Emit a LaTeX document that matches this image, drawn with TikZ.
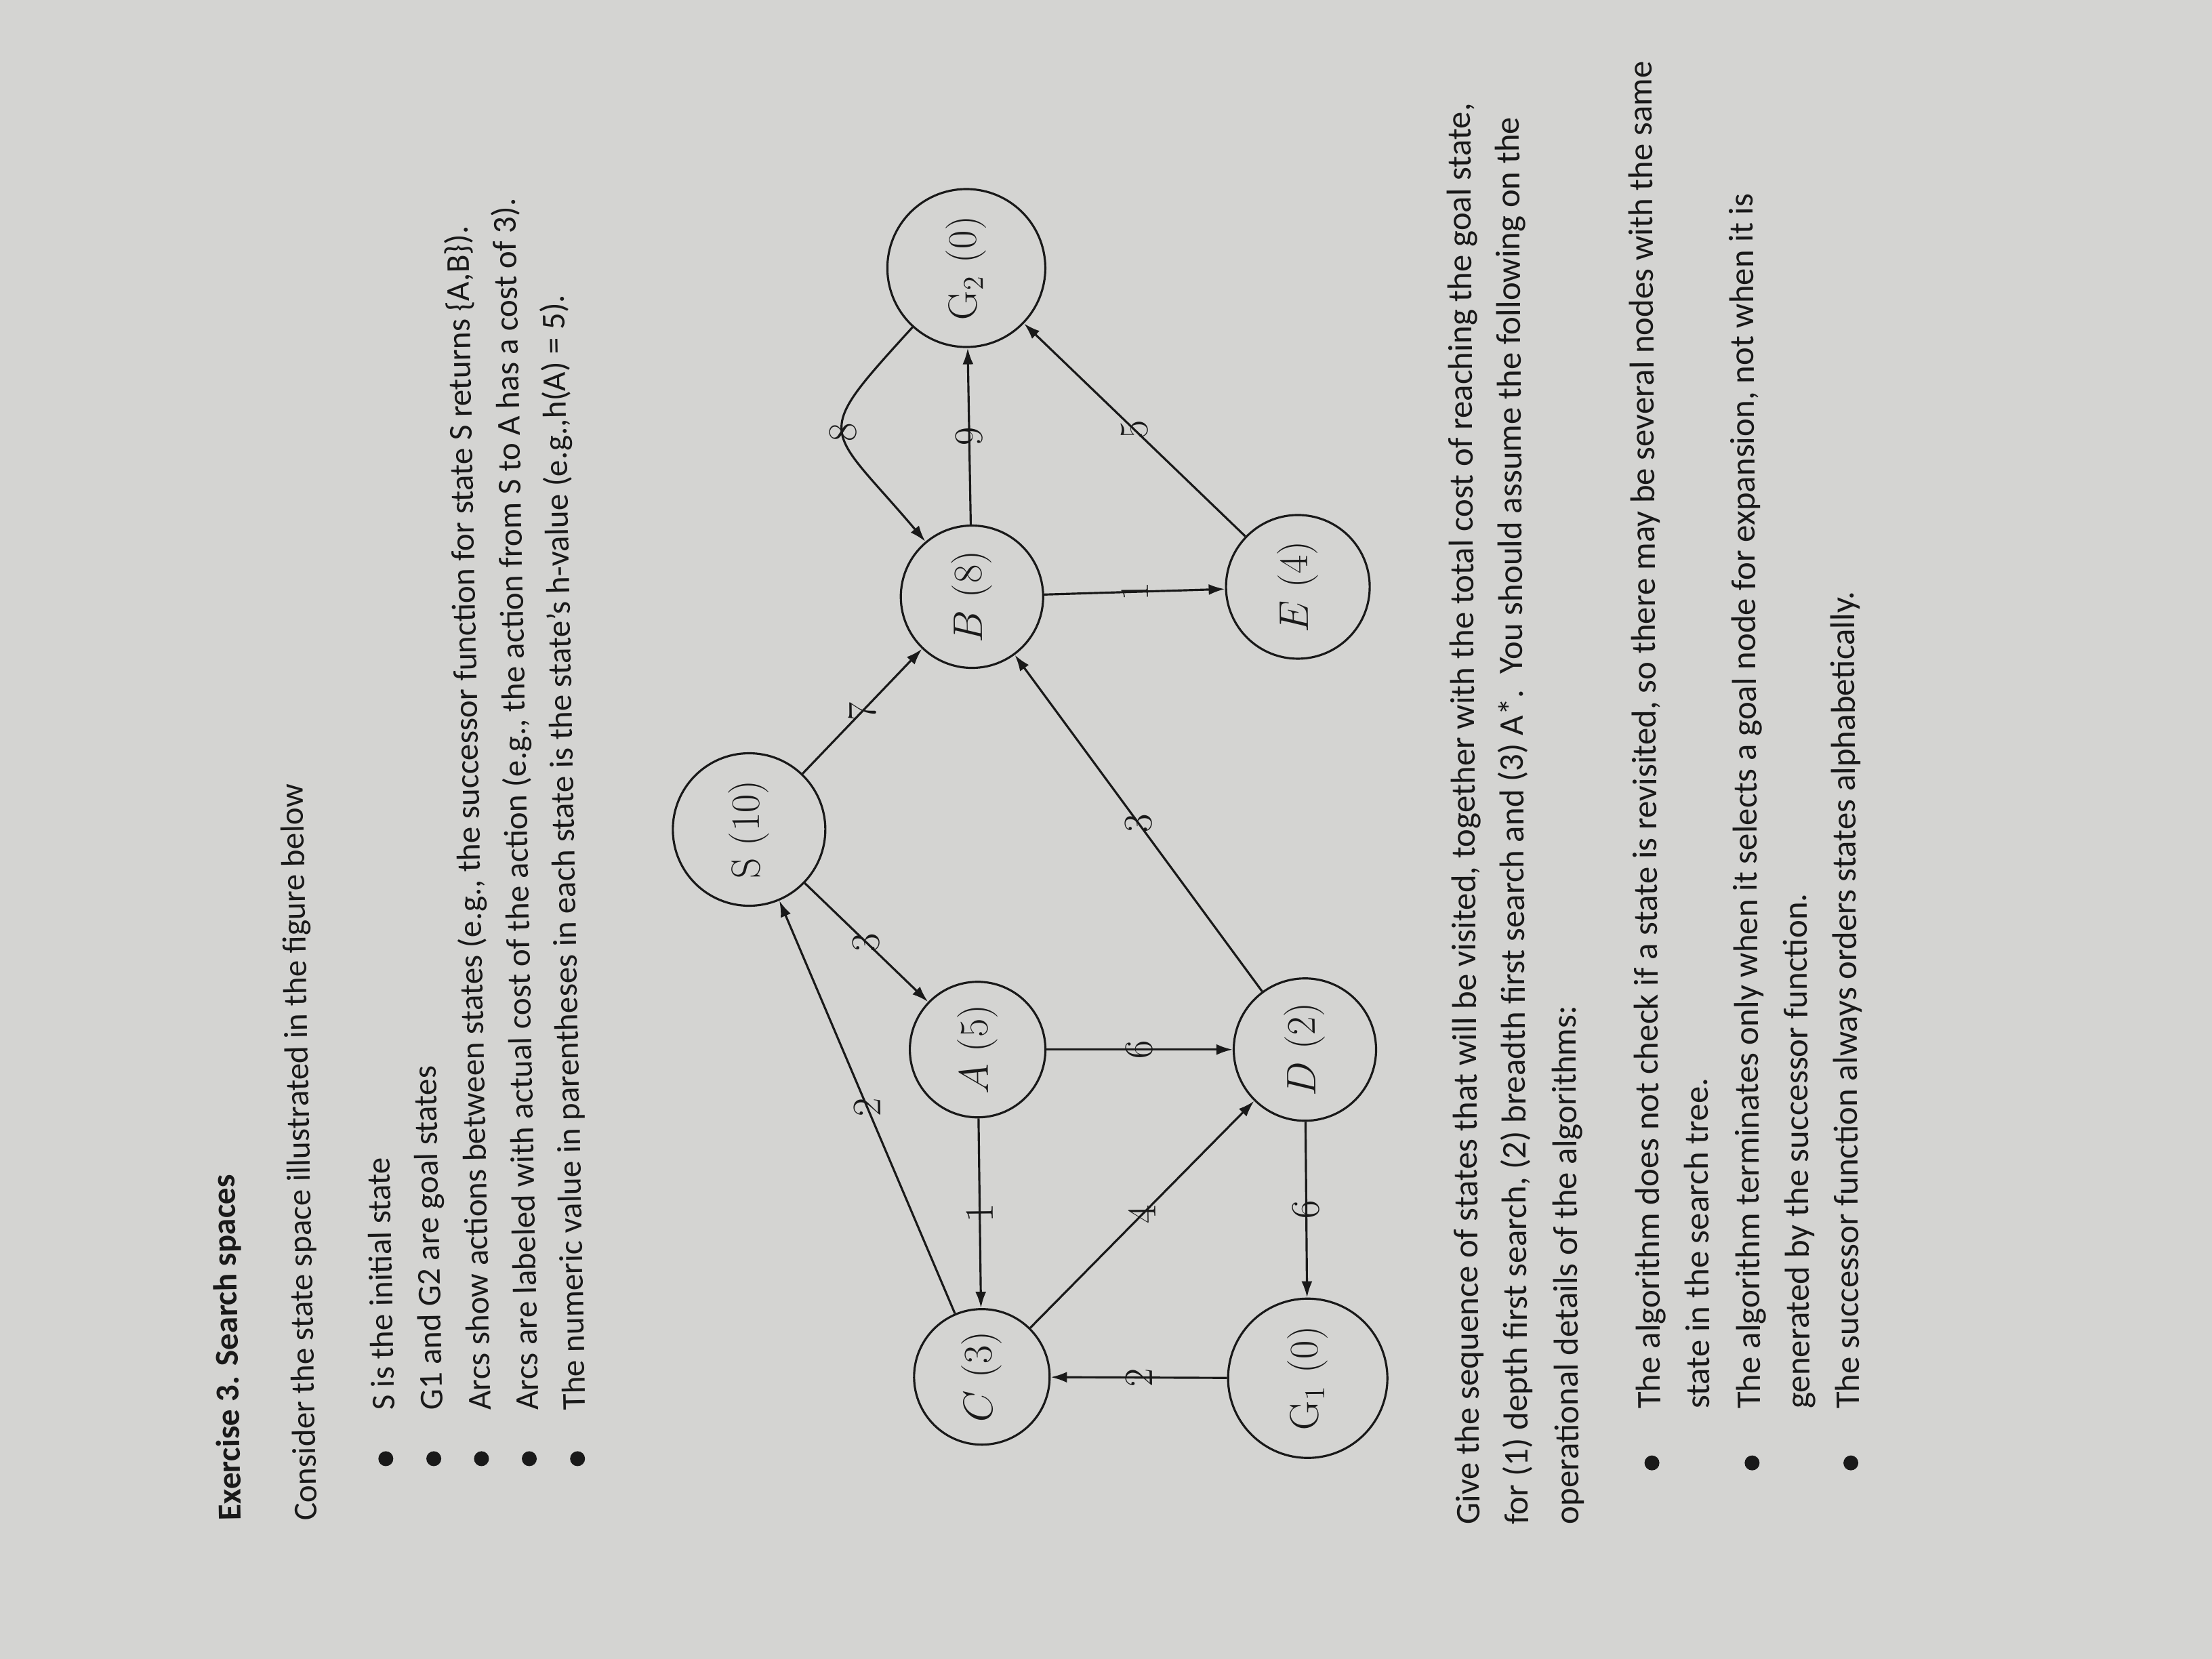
\documentclass[tikz,border=0pt]{standalone}
\usepackage{fontspec}
\newfontfamily\calibri{Carlito}
\usetikzlibrary{arrows.meta}
\definecolor{paper}{RGB}{212,212,210}
\definecolor{ink}{RGB}{25,25,25}
\begin{document}
\begin{tikzpicture}[x=0.020816cm,y=-0.020816cm,
  state/.style={circle, draw=ink, line width=0.9pt, rotate=90.6, inner sep=0pt, text=ink, font=\fontsize{17}{20}\selectfont},
  arr/.style={draw=ink, line width=0.9pt, -{Latex[length=2.4mm,width=1.6mm]}},
  lbl/.style={rotate=90.6, inner sep=0pt, text=ink, font=\fontsize{17}{20}\selectfont},
  txt/.style={anchor=base west, inner sep=0pt, text=ink},
  toptxt/.style={txt, rotate=91.1, font=\calibri\fontsize{14}{17}\selectfont},
  ttl/.style={txt, rotate=91.1, font=\calibri\bfseries\fontsize{14}{17}\selectfont},
  bottxt/.style={txt, rotate=90.37, font=\calibri\fontsize{14.5}{17}\selectfont},
  dot/.style={circle, fill=ink, inner sep=0pt, minimum size=0.22cm}
]
\fill[paper] (0,0) rectangle (1568,1176);
\useasboundingbox (0,0) rectangle (1568,1176);

% ---------- header text ----------
\node[ttl] (title) at (171,1078) {Exercise 3. Search spaces};
\node[toptxt] (intro) at (224.6,1078) {Consider the state space illustrated in the figure below};
\node[dot] (b1) at (273.5,1034) {};
\node[toptxt] (l1) at (279.7,1000) {S is the initial state};
\node[dot] (b2) at (307.5,1034) {};
\node[toptxt] (l2) at (313.7,1000) {G1 and G2 are goal states};
\node[dot] (b3) at (341.3,1034) {};
\node[toptxt] (l3) at (347.9,1000) {Arcs show actions between states (e.g., the successor function for state S returns \{A,B\}).};
\node[dot] (b4) at (375.2,1034) {};
\node[toptxt] (l4) at (381.8,1000) {Arcs are labeled with actual cost of the action (e.g., the action from S to A has a cost of 3).};
\node[dot] (b5) at (409.4,1034) {};
\node[toptxt] (l5) at (414.9,1000) {The numeric value in parentheses in each state is the state’s h-value (e.g.,h(A) = 5).};

% ---------- graph ----------
\node[state, minimum size=2.25cm] (S) at (531,588) {S (10)};
\node[state, minimum size=2.0cm] (A) at (693,744) {$A$ (5)};
\node[state, minimum size=2.1cm] (B) at (689,423) {$B$ (8)};
\node[state, minimum size=2.0cm] (C) at (696,976) {$C$ (3)};
\node[state, minimum size=2.1cm] (D) at (925,744) {$D$ (2)};
\node[state, minimum size=2.12cm] (E) at (920,416) {$E$ (4)};
\node[state, minimum size=2.35cm] (G1) at (927,977) {G$_1$ (0)};
\node[state, minimum size=2.33cm] (G2) at (685,190) {G$_2$ (0)};

\draw[arr] (G1) -- node[lbl]{2} (C);
\draw[arr] (A) -- node[lbl]{1} (C);
\draw[arr] (C) -- node[lbl]{2} (S);
\draw[arr] (S) -- node[lbl]{3} (A);
\draw[arr] (C) -- node[lbl]{4} (D);
\draw[arr] (A) -- node[lbl]{6} (D);
\draw[arr] (D) -- node[lbl]{6} (G1);
\draw[arr] (D) -- node[lbl]{3} (B);
\draw[arr] (S) -- node[lbl]{7} (B);
\draw[arr] (B) -- node[lbl]{1} (E);
\draw[arr] (B) -- node[lbl]{9} (G2);
\draw[arr] (E) -- node[lbl]{5} (G2);
\draw[arr] (G2) .. controls (574,312) and (585,300) .. node[lbl]{8} (B);

% ---------- question text ----------
\node[bottxt] (q1) at (1048.8,1081) {Give the sequence of states that will be visited, together with the total cost of reaching the goal state,};
\node[bottxt] (q2) at (1083.3,1081) {for (1) depth first search, (2) breadth first search and (3) A*.\ \ You should assume the following on the};
\node[bottxt] (q3) at (1119.3,1081) {operational details of the algorithms:};
\node[dot] (c1) at (1171,1037) {};
\node[bottxt] (r1) at (1177,999) {The algorithm does not check if a state is revisited, so there may be several nodes with the same};
\node[bottxt] (r2) at (1212,999) {state in the search tree.};
\node[dot] (c2) at (1242,1037) {};
\node[bottxt] (r3) at (1248,999) {The algorithm terminates only when it selects a goal node for expansion, not when it is};
\node[bottxt] (r4) at (1283,999) {generated by the successor function.};
\node[dot] (c3) at (1312,1037) {};
\node[bottxt] (r5) at (1318,999) {The successor function always orders states alphabetically.};
\end{tikzpicture}
\end{document}
